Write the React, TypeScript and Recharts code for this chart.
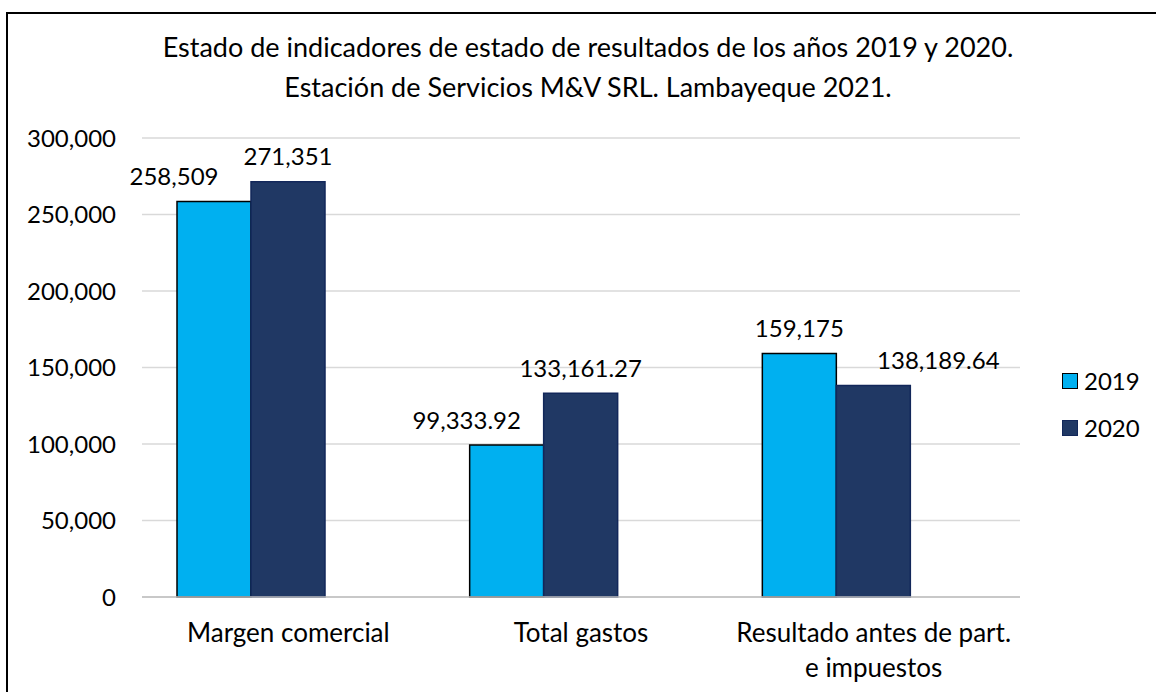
import { BarChart, Bar, XAxis, YAxis, CartesianGrid, LabelList } from 'recharts'

const CATEGORIES = ['Margen comercial', 'Total gastos', 'Resultado antes de part.\ne impuestos']
const Y2019 = [258509, 99333.92, 159175]
const Y2020 = [271351, 133161.27, 138189.64]
const Y_TICKS = [0, 50000, 100000, 150000, 200000, 250000, 300000]
const TITLE = [
  'Estado de indicadores de estado de resultados de los años 2019 y 2020.',
  'Estación de Servicios M&V SRL. Lambayeque 2021.',
]

const FONT = 'Lato, "Open Sans", sans-serif'
const C2019 = '#00B0F0'
const C2020 = '#203864'

// label nudges, Excel pushes overlapping labels sideways
const SHIFT_2019 = [-40, -40, 0]
const SHIFT_2020 = [0, 0, 65]

const data = CATEGORIES.map((name, i) => ({ name, y2019: Y2019[i], y2020: Y2020[i] }))

const fmt = (v: number) => v.toLocaleString('en-US', { maximumFractionDigits: 2 })

const makeLabel = (shift: number[]) => (props: any) => {
  const { x, y, width, value, index } = props
  return (
    <text
      x={x + width / 2 + shift[index]}
      y={y - 26}
      textAnchor="middle"
      dominantBaseline="central"
      fontSize={24}
      fontFamily={FONT}
      fill="#000"
    >
      {fmt(value)}
    </text>
  )
}

const CatTick = (props: any) => {
  const { x, y, payload } = props
  const lines = String(payload.value).split('\n')
  return (
    <text x={x} y={y} textAnchor="middle" fontSize={26} fontFamily={FONT} fill="#000">
      {lines.map((l, i) => (
        <tspan key={i} x={x} dy={i === 0 ? 37 : 35}>
          {l}
        </tspan>
      ))}
    </text>
  )
}

const LEGEND = [
  { label: '2019', fill: C2019, stroke: '#000' },
  { label: '2020', fill: C2020, stroke: '#12275a' },
]

export default function App() {
  return (
    <div style={{ position: 'absolute', left: 0, top: 0, width: 1156, height: 692, overflow: 'hidden', background: '#fff' }}>
      <div
        style={{
          position: 'absolute',
          left: 88,
          top: 27,
          width: 1000,
          textAlign: 'center',
          fontFamily: FONT,
          fontSize: 27,
          lineHeight: '40px',
          color: '#000',
        }}
      >
        {TITLE.map((t) => (
          <div key={t}>{t}</div>
        ))}
      </div>
      <div style={{ position: 'absolute', left: 0, top: 0 }}>
        <BarChart
          width={1156}
          height={692}
          data={data}
          margin={{ top: 138, right: 136, bottom: 0, left: 0 }}
          barCategoryGap={35}
          barGap={0}
        >
          <CartesianGrid vertical={false} stroke="#D9D9D9" strokeWidth={1.5} />
          <XAxis
            dataKey="name"
            tick={<CatTick />}
            tickLine={false}
            axisLine={{ stroke: '#BFBFBF', strokeWidth: 1.5 }}
            interval={0}
            height={95}
          />
          <YAxis
            domain={[0, 300000]}
            ticks={Y_TICKS}
            tickFormatter={fmt}
            width={142}
            tickSize={0}
            tickMargin={26}
            axisLine={false}
            tickLine={false}
            tick={{ fontSize: 24, fontFamily: FONT, fill: '#000' }}
          />
          <Bar dataKey="y2019" name="2019" fill={C2019} stroke="#000" strokeWidth={1.5} isAnimationActive={false}>
            <LabelList dataKey="y2019" content={makeLabel(SHIFT_2019)} />
          </Bar>
          <Bar dataKey="y2020" name="2020" fill={C2020} stroke="#12275a" strokeWidth={1.5} isAnimationActive={false}>
            <LabelList dataKey="y2020" content={makeLabel(SHIFT_2020)} />
          </Bar>
          {/* empty third slot: the source chart leaves room for a missing series */}
          <Bar dataKey="spacer" legendType="none" isAnimationActive={false} />
        </BarChart>
      </div>
      <div style={{ position: 'absolute', left: 1062, top: 357, fontFamily: FONT, fontSize: 24, color: '#000' }}>
        {LEGEND.map((it) => (
          <div key={it.label} style={{ display: 'flex', alignItems: 'center', height: 47 }}>
            <span
              style={{
                display: 'inline-block',
                width: 14,
                height: 14,
                background: it.fill,
                border: `1.5px solid ${it.stroke}`,
                marginRight: 6,
              }}
            />
            {it.label}
          </div>
        ))}
      </div>
      {/* outer frame, only left and top edges fall inside the picture */}
      <svg width={1156} height={692} style={{ position: 'absolute', left: 0, top: 0, pointerEvents: 'none' }}>
        <path d="M7,700 V13 H1160" fill="none" stroke="#000" strokeWidth={2} />
      </svg>
    </div>
  )
}
